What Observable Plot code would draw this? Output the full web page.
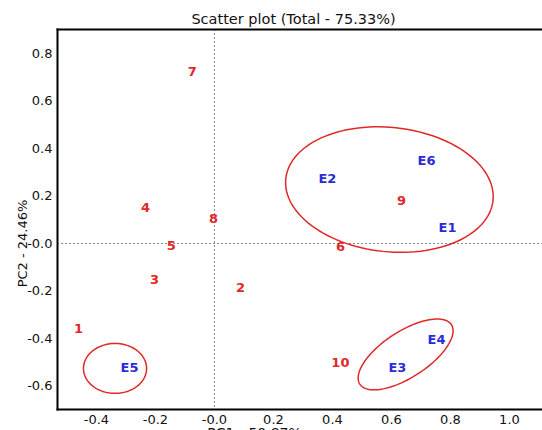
<!DOCTYPE html>
<html>
<head>
<meta charset="utf-8">
<script src="https://cdn.jsdelivr.net/npm/d3@7"></script>
<script src="https://cdn.jsdelivr.net/npm/@observablehq/plot@0.6"></script>
<style>
  html, body { margin: 0; padding: 0; background: white; overflow: hidden; }
</style>
</head>
<body>
<div id="chart"></div>
<script>
// ---- data ----
const labels = ["1","2","3","4","5","6","7","8","9","10","E1","E2","E3","E4","E5","E6"];
const pc1 = [-0.461, 0.088, -0.203, -0.234, -0.146, 0.427, -0.075, -0.003, 0.634, 0.427, 0.790, 0.383, 0.620, 0.753, -0.288, 0.719];
const pc2 = [-0.358, -0.185, -0.152, 0.152, -0.008, -0.015, 0.722, 0.105, 0.181, -0.501, 0.067, 0.274, -0.522, -0.404, -0.522, 0.349];
const kinds = ["g","g","g","g","g","g","g","g","g","g","e","e","e","e","e","e"];

const xTicks = [-0.4, -0.2, 0, 0.2, 0.4, 0.6, 0.8, 1.0];
const xTickLabels = ["-0.4", "-0.2", "-0.0", "0.2", "0.4", "0.6", "0.8", "1.0"];
const yTicks = [-0.6, -0.4, -0.2, 0, 0.2, 0.4, 0.6, 0.8];
const yTickLabels = ["-0.6", "-0.4", "-0.2", "-0.0", "0.2", "0.4", "0.6", "0.8"];

// ellipses: center and two semi-axis vectors (data units)
const ellCx = [0.593, 0.648, -0.337];
const ellCy = [0.227, -0.467, -0.526];
const ellAx = [0.3512, 0.1552, 0.107];
const ellAy = [-0.0459, 0.1251, 0.0];
const ellBx = [-0.022, 0.0424, 0.0];
const ellBy = [-0.2602, -0.0813, 0.105];

const title = "Scatter plot (Total - 75.33%)";
const xLabel = "PC1 - 50.87%";
const yLabel = "PC2 - 24.46%";

// ---- build tables ----
const points = labels.map((l, i) => ({label: l, x: pc1[i], y: pc2[i], kind: kinds[i]}));
const ellPts = [];
ellCx.forEach((cx, k) => {
  for (let j = 0; j <= 120; j++) {
    const t = (j / 120) * 2 * Math.PI;
    ellPts.push({
      id: k,
      x: cx + ellAx[k] * Math.cos(t) + ellBx[k] * Math.sin(t),
      y: ellCy[k] + ellAy[k] * Math.cos(t) + ellBy[k] * Math.sin(t)
    });
  }
});

const red = "#e02828";
const blue = "#2b2bd8";

const chart = Plot.plot({
  width: 542,
  height: 430,
  marginLeft: 57,
  marginRight: 0,
  marginTop: 29,
  marginBottom: 21,
  style: {fontFamily: "DejaVu Sans", fontSize: "13px", background: "white", color: "#111"},
  x: {domain: [-0.532, 1.112]},
  y: {domain: [-0.699, 0.901]},
  marks: [
    Plot.ruleX([0], {stroke: "#888", strokeDasharray: "2,2", strokeWidth: 1}),
    Plot.ruleY([0], {stroke: "#888", strokeDasharray: "2,2", strokeWidth: 1}),
    Plot.line(ellPts, {x: "x", y: "y", z: "id", stroke: red, strokeWidth: 1.5, curve: "linear"}),
    Plot.text(points, {
      x: "x", y: "y", text: "label",
      fill: d => d.kind === "e" ? blue : red,
      fontWeight: "bold", fontSize: 13,
      textAnchor: "middle", lineAnchor: "middle"
    }),
    Plot.frame({anchor: "left", stroke: "#000", strokeWidth: 2}),
    Plot.frame({anchor: "top", stroke: "#000", strokeWidth: 2}),
    Plot.frame({anchor: "bottom", stroke: "#000", strokeWidth: 2}),
    Plot.axisX({ticks: xTicks, tickSize: 0, tickPadding: 5, tickFormat: (d, i) => xTickLabels[i], label: null, fontSize: 13}),
    Plot.axisY({ticks: yTicks, tickSize: 0, tickPadding: 5, tickFormat: (d, i) => yTickLabels[i], label: null, fontSize: 13}),
    Plot.text([title], {frameAnchor: "top", x: [0.268], text: d => d, dy: -10, lineAnchor: "middle", fontSize: 14.5, fill: "#111"}),
    Plot.text([yLabel], {frameAnchor: "left", y: [0], text: d => d, dx: -35, rotate: -90, textAnchor: "middle", lineAnchor: "middle", fontSize: 13, fill: "#111"}),
    Plot.text([xLabel], {frameAnchor: "bottom", x: [0.136], text: d => d, dy: 19, lineAnchor: "top", fontSize: 14, fill: "#111"})
  ]
});
document.getElementById("chart").appendChild(chart);
</script>
</body>
</html>
